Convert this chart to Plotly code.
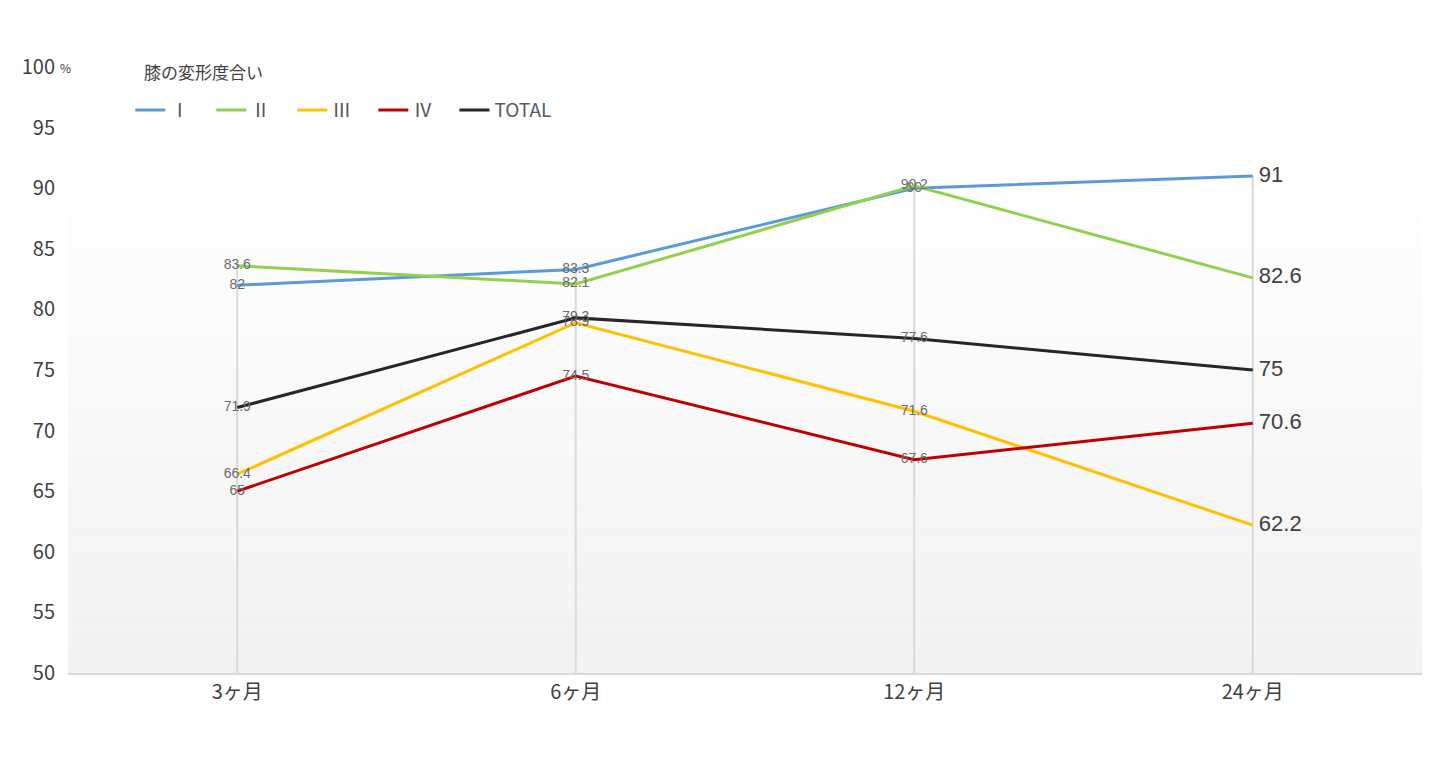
import plotly.graph_objects as go

categories = ["3ヶ月", "6ヶ月", "12ヶ月", "24ヶ月"]
series_names = ["Ⅰ", "Ⅱ", "Ⅲ", "Ⅳ", "TOTAL"]
vals_I = [82, 83.3, 90, 91]
vals_II = [83.6, 82.1, 90.2, 82.6]
vals_III = [66.4, 78.9, 71.6, 62.2]
vals_IV = [65, 74.5, 67.6, 70.6]
vals_TOTAL = [71.9, 79.3, 77.6, 75]
colors = ["#5b9bd5", "#92d050", "#ffc000", "#c00000", "#262626"]
y_ticks = [50, 55, 60, 65, 70, 75, 80, 85, 90, 95, 100]
y_ticktext = ["50", "55", "60", "65", "70", "75", "80", "85", "90", "95", "100"]

all_series = [vals_I, vals_II, vals_III, vals_IV, vals_TOTAL]
FONT = "Noto Sans CJK JP, Noto Sans, sans-serif"
PAD = "\u00a0" * 4

fig = go.Figure()

# drop lines from axis to the highest point of each category
dx, dy = [], []
for i, c in enumerate(categories):
    top = max(s[i] for s in all_series)
    dx += [i, i, None]
    dy += [50, top, None]
fig.add_trace(go.Scatter(x=dx, y=dy, mode="lines", line=dict(color="#d9d9d9", width=2),
                         showlegend=False, hoverinfo="skip"))

n = len(categories)
for name, vals, col in zip(series_names, all_series, colors):
    texts = [f"{v:g}" for v in vals[:-1]] + [f" {vals[-1]:g}"]
    pos = ["middle center"] * (n - 1) + ["middle right"]
    sizes = [14] * (n - 1) + [22]
    tcols = ["#6b6b6b"] * (n - 1) + ["#404040"]
    fig.add_trace(go.Scatter(
        x=list(range(n)), y=vals, name=name + PAD, mode="lines+text",
        line=dict(color=col, width=3),
        text=texts, textposition=pos,
        textfont=dict(size=sizes, color=tcols, family="Liberation Sans, Arial, sans-serif"),
        cliponaxis=False,
    ))

# gradient background strips (styling)
shapes = []
N = 40
y0, y1 = 50, 90
for k in range(N):
    a = y0 + (y1 - y0) * k / N
    b = y0 + (y1 - y0) * (k + 1) / N
    t = k / (N - 1)
    g = int(round(242 + (254 - 242) * t))
    shapes.append(dict(type="rect", xref="x", yref="y", x0=-0.5, x1=3.5, y0=a, y1=b,
                       fillcolor=f"rgb({g},{g},{g})", line=dict(width=0), layer="below"))

fig.update_layout(
    width=1438, height=774,
    margin=dict(l=68, r=16, t=67, b=101),
    paper_bgcolor="white", plot_bgcolor="white",
    font=dict(family=FONT, color="#404040", size=20),
    shapes=shapes,
    showlegend=True,
    legend=dict(orientation="h", x=0.046, xanchor="left", y=0.929, yanchor="middle",
                font=dict(size=19, color="#595959", family=FONT),
                bgcolor="rgba(0,0,0,0)", itemwidth=30, tracegroupgap=0),
    annotations=[
        dict(text="膝の変形度合い", xref="paper", yref="paper", x=0.055, y=0.993,
             xanchor="left", yanchor="middle", showarrow=False,
             font=dict(size=17, color="#404040", family=FONT)),
        dict(text="%", xref="paper", yref="y", x=-0.0075, y=100,
             xanchor="left", yanchor="middle", showarrow=False,
             font=dict(size=12, color="#404040", family=FONT)),
    ],
    xaxis=dict(tickmode="array", tickvals=list(range(n)), ticktext=categories,
               range=[-0.5, 3.5], showgrid=False, zeroline=False,
               showline=True, linecolor="#d9d9d9", linewidth=2, ticks="",
               tickfont=dict(size=20, color="#404040")),
    yaxis=dict(range=[50, 100], tickmode="array", tickvals=y_ticks, ticktext=y_ticktext,
               showgrid=False, zeroline=False, showline=False, ticks="",
               ticklabelstandoff=12,
               tickfont=dict(size=20, color="#404040")),
)

fig.write_html("out.html")
